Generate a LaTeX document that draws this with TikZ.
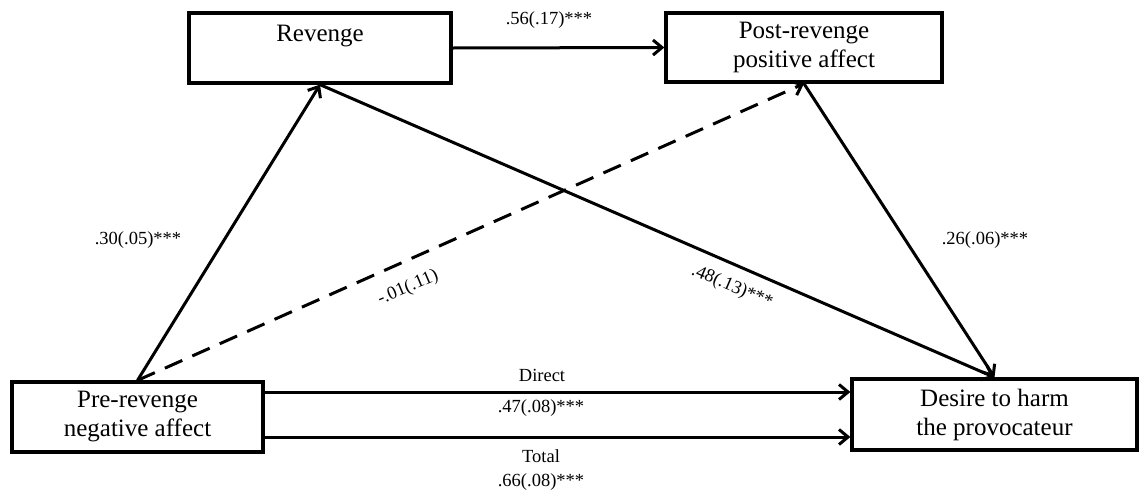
\documentclass[tikz,border=0pt]{standalone}
\usepackage{fontspec}
\setmainfont{Liberation Serif}
\usetikzlibrary{arrows.meta,calc}
\begin{document}
\begin{tikzpicture}[x=1pt,y=-1pt,
  varbox/.style={draw,line width=3.3pt,rectangle,align=center,inner sep=0pt,
    font=\fontsize{25}{29}\selectfont},
  path/.style={line width=3pt,-{Straight Barb[length=9pt,width=15pt,line width=3pt]}},
  dashedpath/.style={path,dash pattern=on 19pt off 11pt},
  coef/.style={font=\fontsize{18.5}{22}\selectfont,inner sep=0pt}]
\useasboundingbox (0,0) rectangle (1140,493);

% variables
\node[varbox,minimum width=262pt,minimum height=70pt] (rev) at (320,48) {Revenge\\\mbox{}};
\node[varbox,minimum width=276pt,minimum height=69pt] (post) at (804,47.5) {Post-revenge\\positive affect};
\node[varbox,minimum width=251pt,minimum height=70pt] (pre) at (137.5,417) {Pre-revenge\\negative affect};
\node[varbox,minimum width=285pt,minimum height=71pt] (harm) at (994.5,414.5) {Desire to harm\\the provocateur};

% paths
\draw[path] (pre.north) -- (rev.south);
\draw[dashedpath] (pre.north) -- (post.south);
\draw[path] (rev.south) -- (harm.north);
\draw[path] (post.south) -- (harm.north);
\draw[path] (rev.east) -- (post.west);
\coordinate (dirA) at ([yshift=25pt]pre.east);
\coordinate (totA) at ([yshift=-20pt]pre.east);
\draw[path] (dirA) -- (dirA -| harm.west);
\draw[path] (totA) -- (totA -| harm.west);

% coefficients
\node[coef] (c1) at (549,20) {.56(.17)***};
\node[coef] (c2) at (138,240) {.30(.05)***};
\node[coef] (c3) at (985,240) {.26(.06)***};
\node[coef,rotate=23] (c4) at (408,288) {-.01(.11)};
\node[coef,rotate=-23] (c5) at (732,287) {.48(.13)***};
\node[coef] (c6) at (542,375) {Direct};
\node[coef] (c7) at (541,408) {.47(.08)***};
\node[coef] (c8) at (541,456) {Total};
\node[coef] (c9) at (541,482) {.66(.08)***};
\end{tikzpicture}
\end{document}
